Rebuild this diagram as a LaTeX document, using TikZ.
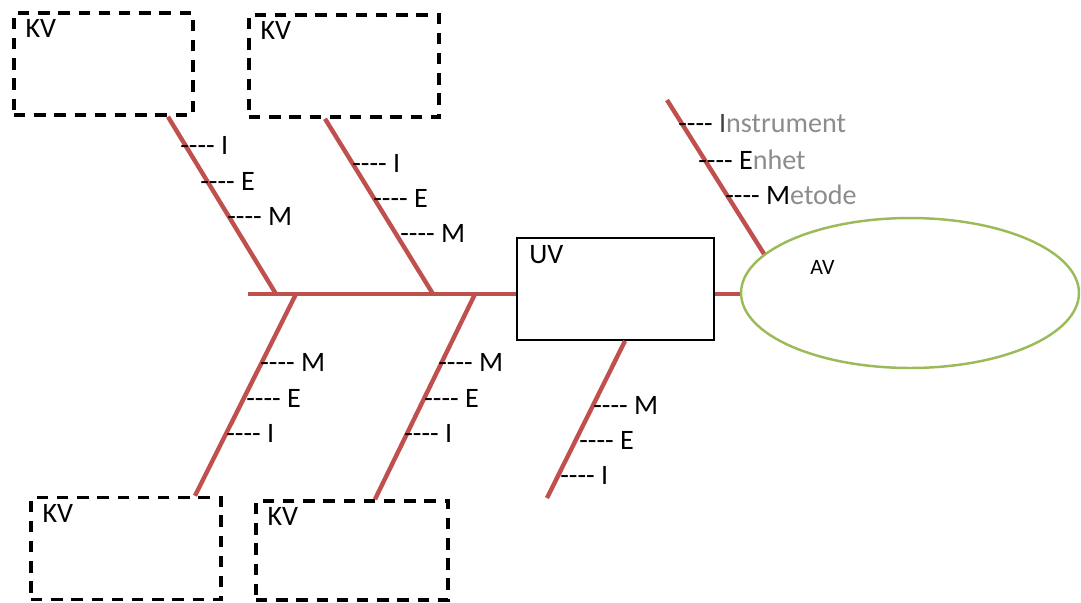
\documentclass[tikz,border=0pt]{standalone}
\usepackage{fontspec}
\setmainfont{Carlito}
\usetikzlibrary{shapes.geometric}
\definecolor{benrod}{HTML}{C0504D}
\definecolor{avgronn}{HTML}{9BBB59}
\definecolor{tekstgra}{HTML}{8C8C8C}
\newcommand{\strek}{-{}-{}-{}-}

\begin{document}
\begin{tikzpicture}[x=0.02cm, y=-0.02cm,
    ben/.style={line width=2.5pt, benrod},
    kvboks/.style={draw, line width=2pt, dash pattern=on 6.5pt off 5pt, minimum height=2.04cm, inner sep=0,
        label={[anchor=north west, inner sep=0, xshift=0.26cm, yshift=-0.16cm, font=\fontsize{16}{19}\selectfont]north west:KV}},
    merk/.style={anchor=west, inner sep=0, font=\fontsize{16}{19}\selectfont}]
        \useasboundingbox (0,0) rectangle (1081,602);

        % Kontrollvariabler
        \node[kvboks, minimum width=3.58cm] (kv1) at (103.5,64) {};
        \node[kvboks, minimum width=3.8cm] (kv2) at (344,66) {};
        \node[kvboks, minimum width=3.8cm] (kv3) at (126,548.5) {};
        \node[kvboks, minimum width=3.84cm, minimum height=1.98cm] (kv4) at (352,550.5) {};

        % UV og AV
        \node[draw, line width=1.1pt, minimum width=3.94cm, minimum height=2.04cm,
            label={[anchor=north west, inner sep=0, xshift=0.26cm, yshift=-0.16cm, font=\fontsize{16}{19}\selectfont]north west:UV}] (uv) at (615.5,289) {};
        \node[draw=avgronn, line width=1.4pt, ellipse, minimum width=6.76cm, minimum height=3cm] (av) at (910,293) {};
        \node[anchor=west, inner sep=0, font=\fontsize{12.5}{15}\selectfont] (avtekst) at (810,267) {AV};

        % Ryggrad
        \coordinate (h0) at (248,294);
        \coordinate (o1) at (276,294);
        \coordinate (o2) at (433,294);
        \coordinate (n1) at (296,294);
        \coordinate (n2) at (475,294);
        \coordinate (u1) at (547,498);
        \coordinate (a0) at (667,100);
        \draw[ben] (h0) -- (h0 -| uv.west);
        \draw[ben] (h0 -| uv.east) -- (h0 -| av.west);

        % Ben
        \draw[ben] ([xshift=1.29cm]kv1.south) -- (o1);
        \draw[ben] ([xshift=-0.38cm]kv2.south) -- (o2);
        \draw[ben] (n1) -- ([xshift=1.38cm]kv3.north);
        \draw[ben] (n2) -- ([xshift=0.46cm]kv4.north);
        \draw[ben] ([xshift=0.19cm]uv.south) -- (u1);
        \draw[ben] (a0) -- (av.165);

        % I, E, M
        \node[merk] (i1) at (180,145) {\strek\ I};
        \node[merk] (e1) at (200,181) {\strek\ E};
        \node[merk] (m1) at (227,216) {\strek\ M};
        \node[merk] (i2) at (352,163) {\strek\ I};
        \node[merk] (e2) at (373,198) {\strek\ E};
        \node[merk] (m2) at (400,233) {\strek\ M};
        \node[merk] (m3) at (260,362) {\strek\ M};
        \node[merk] (e3) at (246,398) {\strek\ E};
        \node[merk] (i3) at (226,433) {\strek\ I};
        \node[merk] (m4) at (438,362) {\strek\ M};
        \node[merk] (e4) at (424,398) {\strek\ E};
        \node[merk] (i4) at (404,433) {\strek\ I};
        \node[merk] (m5) at (593,405) {\strek\ M};
        \node[merk] (e5) at (579,440) {\strek\ E};
        \node[merk] (i5) at (560,475) {\strek\ I};

        \node[merk] (instr) at (678,124) {\strek\ \textcolor{darkgray}{I}\textcolor{tekstgra}{nstrument}};
        \node[merk] (enhet) at (698,160) {\strek\ E\textcolor{tekstgra}{nhet}};
        \node[merk] (metode) at (725,195) {\strek\ M\textcolor{tekstgra}{etode}};
    \end{tikzpicture}
\end{document}
